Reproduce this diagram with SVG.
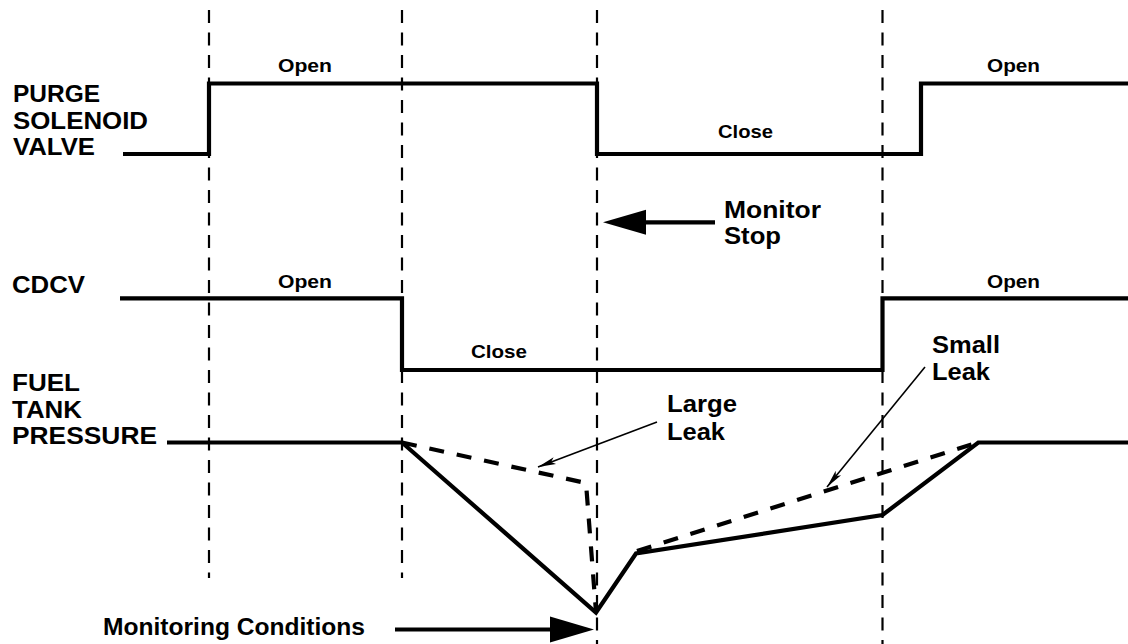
<svg xmlns="http://www.w3.org/2000/svg" width="1128" height="644" viewBox="0 0 1128 644">
<style>
text{font-family:"Liberation Sans",Arial,sans-serif;font-weight:bold;fill:#000}
.big{font-size:23.5px}
.sm{font-size:19px}
.sig{fill:none;stroke:#000;stroke-width:4.2;stroke-linejoin:miter}
.grid{fill:none;stroke:#000;stroke-width:2.2;stroke-dasharray:13 9.5}
.leak{fill:none;stroke:#000;stroke-width:4.2;stroke-dasharray:15 13}
.ptr{fill:none;stroke:#000;stroke-width:1.6}
.shaft{fill:none;stroke:#000;stroke-width:4.2}
</style>
<defs>
<marker id="thin" markerUnits="userSpaceOnUse" markerWidth="20" markerHeight="12" refX="18" refY="5" orient="auto" viewBox="0 0 20 10">
<path d="M0,1.5 L18,5 L0,8.5 L4,5 z" fill="#000"/>
</marker>
</defs>
<rect width="1128" height="644" fill="#fff"/>
<g id="gridlines">
<line class="grid" x1="209" y1="10" x2="209" y2="578"/>
<line class="grid" x1="402" y1="10" x2="402" y2="578"/>
<line class="grid" x1="597" y1="10" x2="597" y2="644"/>
<line class="grid" x1="882.5" y1="10" x2="882.5" y2="644"/>
</g>
<g id="purge">
<polyline class="sig" points="123,154 209,154 209,83.5 597,83.5 597,154 921,154 921,83.5 1128,83.5"/>
<text class="big" x="13" y="101.7" textLength="87" lengthAdjust="spacingAndGlyphs">PURGE</text>
<text class="big" x="13" y="128.5" textLength="135" lengthAdjust="spacingAndGlyphs">SOLENOID</text>
<text class="big" x="13" y="155" textLength="82" lengthAdjust="spacingAndGlyphs">VALVE</text>
<text class="sm" x="278" y="71.7" textLength="54" lengthAdjust="spacingAndGlyphs">Open</text>
<text class="sm" x="987" y="71.7" textLength="53" lengthAdjust="spacingAndGlyphs">Open</text>
<text class="sm" x="718" y="138.3" textLength="55" lengthAdjust="spacingAndGlyphs">Close</text>
</g>
<g id="cdcv">
<polyline class="sig" points="120,298.3 402,298.3 402,370 882.5,370 882.5,298.3 1128,298.3"/>
<text class="big" x="12" y="293.3" textLength="73" lengthAdjust="spacingAndGlyphs">CDCV</text>
<text class="sm" x="278" y="288.3" textLength="54" lengthAdjust="spacingAndGlyphs">Open</text>
<text class="sm" x="987" y="288.3" textLength="53" lengthAdjust="spacingAndGlyphs">Open</text>
<text class="sm" x="471" y="358.3" textLength="56" lengthAdjust="spacingAndGlyphs">Close</text>
</g>
<g id="fuel">
<polyline class="sig" points="167,442.5 402,442.5 596,612.5 636,553.5 882.5,515 978.3,442.5 1128,442.5"/>
<polyline class="leak" points="402,442.5 586,483 596,612"/>
<line class="leak" x1="637" y1="551" x2="978" y2="442.5"/>
<text class="big" x="12" y="391" textLength="68" lengthAdjust="spacingAndGlyphs">FUEL</text>
<text class="big" x="12" y="417.7" textLength="70" lengthAdjust="spacingAndGlyphs">TANK</text>
<text class="big" x="12" y="444.3" textLength="145" lengthAdjust="spacingAndGlyphs">PRESSURE</text>
</g>
<g id="large-leak">
<text class="big" x="667" y="412" textLength="70" lengthAdjust="spacingAndGlyphs">Large</text>
<text class="big" x="667" y="439.5" textLength="58" lengthAdjust="spacingAndGlyphs">Leak</text>
</g>
<g id="small-leak">
<text class="big" x="932" y="353.3" textLength="68" lengthAdjust="spacingAndGlyphs">Small</text>
<text class="big" x="932" y="380" textLength="58" lengthAdjust="spacingAndGlyphs">Leak</text>
</g>
<g id="monitor-stop">
<text class="big" x="724" y="218.3" textLength="97" lengthAdjust="spacingAndGlyphs">Monitor</text>
<text class="big" x="724" y="243.5" textLength="57" lengthAdjust="spacingAndGlyphs">Stop</text>
</g>
<g id="monitoring-conditions">
<text class="big" x="103" y="635" textLength="262" lengthAdjust="spacingAndGlyphs">Monitoring Conditions</text>
</g>
<g id="connectors">
<line class="ptr" x1="657" y1="422" x2="538" y2="467" marker-end="url(#thin)"/>
<line class="ptr" x1="925" y1="367" x2="827" y2="487" marker-end="url(#thin)"/>
<line class="shaft" x1="645" y1="222.3" x2="715" y2="222.3"/>
<polygon points="603,222.3 646,209.8 646,234.8" fill="#000"/>
<line class="shaft" x1="395" y1="629.5" x2="551" y2="629.5"/>
<polygon points="594,629.5 550,616.5 550,642.5" fill="#000"/>
</g>
</svg>
